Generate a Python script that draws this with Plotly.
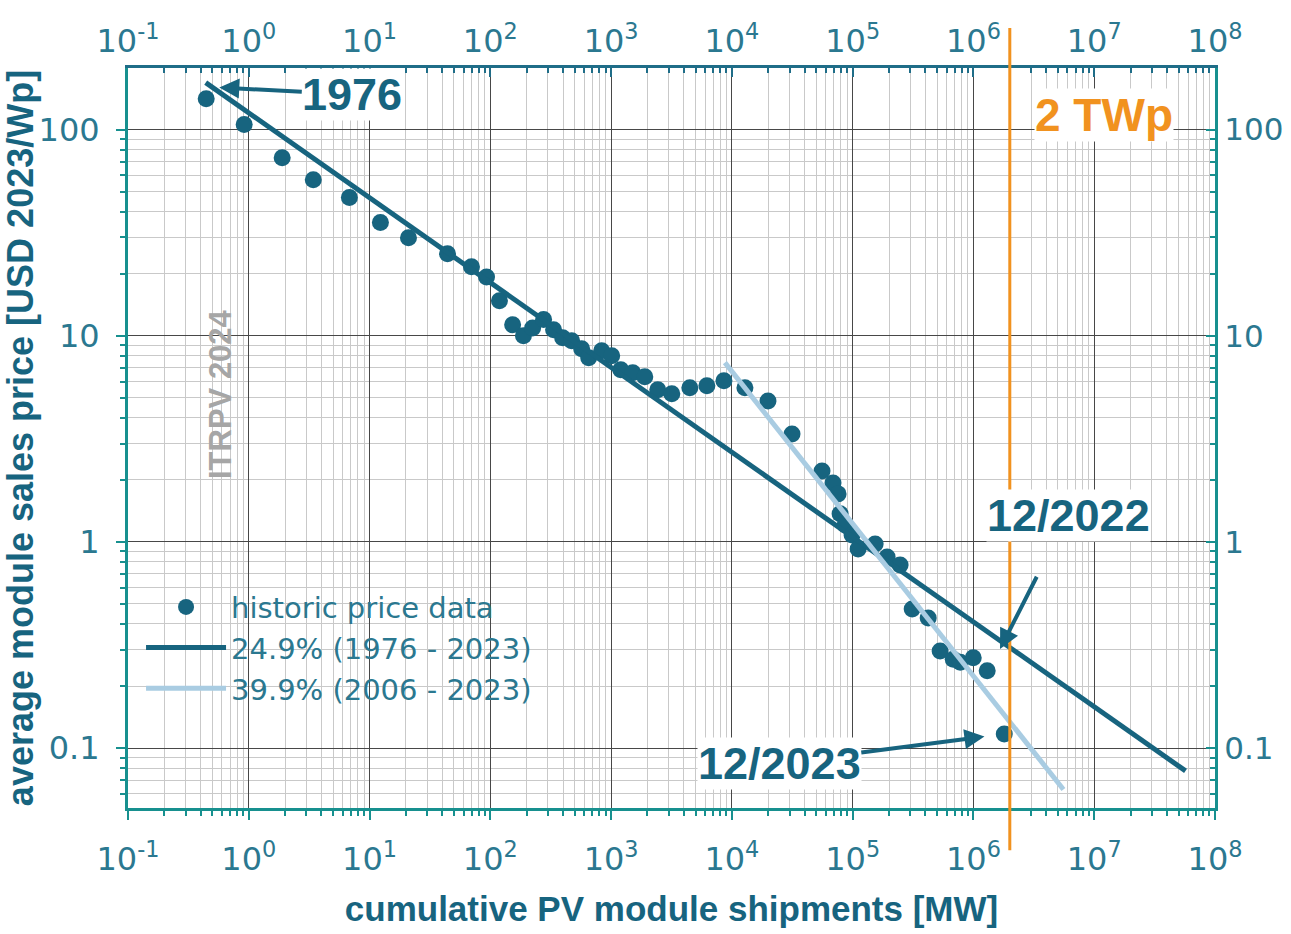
import numpy as np
import plotly.graph_objects as go

# Cumulative PV module shipments [MW] and average module sales price [USD 2023/Wp]
shipments_mw = [
    0.444, 0.916, 1.89, 3.42, 6.81, 12.3, 21.0, 44.2, 69.8, 93.0,
    119, 153, 188, 224, 276, 334, 397, 471, 570, 652,
    835, 1011, 1202, 1511, 1900, 2434, 3180, 4486, 6208, 8590,
    12820, 19900, 31470, 55730, 68750, 75700, 78700, 86500, 98900, 111000,
    153500, 192900, 247000, 311000, 422000, 530000, 680000, 778000, 996000, 1.30e6,
    1.80e6,
]
price_usd = [
    141, 106, 73.1, 57.1, 46.8, 35.4, 29.9, 25.0, 21.6, 19.3,
    14.8, 11.3, 10.0, 10.9, 12.0, 10.7, 9.78, 9.46, 8.65, 7.82,
    8.45, 8.0, 6.84, 6.61, 6.32, 5.47, 5.23, 5.59, 5.72, 6.05,
    5.59, 4.83, 3.34, 2.21, 1.93, 1.71, 1.37, 1.21, 1.08, 0.925,
    0.978, 0.845, 0.773, 0.473, 0.428, 0.296, 0.270, 0.261, 0.274, 0.237,
    0.117,
]

# Learning-curve fits (end points of straight lines in log-log space)
fit_long_x = [0.44, 5.7e7]      # 24.9 % (1976 - 2023)
fit_long_y = [169, 0.0775]
fit_short_x = [8750, 5.56e6]    # 39.9 % (2006 - 2023)
fit_short_y = [7.41, 0.063]

capacity_2tw_mw = 2e6

x_tick_vals = [10.0 ** k for k in range(-1, 9)]
x_tick_text = [f"10<sup>{k}</sup>" for k in range(-1, 9)]
y_tick_vals = [0.1, 1, 10, 100]
y_tick_text = ["0.1", "1", "10", "100"]

DARK = "#17647f"
LIGHT = "#a9cce2"
ORANGE = "#f1921f"
TICK_COL = "#2b7890"
AXIS_TEAL = "#17908f"
AXIS_TOP = "#1f6d88"
FONT = "Liberation Sans, Arial, sans-serif"
TICK_FONT = "DejaVu Sans, sans-serif"

X_RANGE = [-1, 8]
Y_RANGE = [np.log10(0.0512), np.log10(199)]

fig = go.Figure()

fig.add_trace(go.Scatter(
    x=shipments_mw, y=price_usd, mode="markers", name="historic price data",
    marker=dict(size=17, color=DARK, line=dict(width=0)),
))
fig.add_trace(go.Scatter(
    x=fit_long_x, y=fit_long_y, mode="lines", name="24.9% (1976 - 2023)",
    line=dict(color=DARK, width=5),
))
# the short-period fit sits on the mirrored top/right axes (same ranges)
fig.add_trace(go.Scatter(
    x=fit_short_x, y=fit_short_y, mode="lines", name="39.9% (2006 - 2023)",
    line=dict(color=LIGHT, width=5), xaxis="x2", yaxis="y2",
))

major_grid = "#474747"
minor_grid = "#c9c9c9"
tickfont = dict(family=TICK_FONT, size=32, color=TICK_COL)

fig.update_layout(
    width=1291, height=934,
    margin=dict(l=128, r=76, t=68, b=126),
    paper_bgcolor="white", plot_bgcolor="white",
    font=dict(family=FONT, color=TICK_COL),
    showlegend=True,
    legend=dict(
        x=0.012, y=0.306, xanchor="left", yanchor="top",
        bgcolor="rgba(0,0,0,0)", font=dict(family=TICK_FONT, size=29, color=TICK_COL),
        itemwidth=80, tracegroupgap=0,
    ),
    xaxis=dict(
        type="log", range=X_RANGE, automargin=False,
        tickvals=x_tick_vals, ticktext=x_tick_text, tickfont=tickfont,
        ticks="outside", ticklen=9, tickwidth=2, tickcolor=AXIS_TEAL,
        ticklabelstandoff=12,
        showline=True, linecolor=AXIS_TEAL, linewidth=3,
        showgrid=True, gridcolor=major_grid, gridwidth=1.3,
        minor=dict(dtick="D1", showgrid=True, gridcolor=minor_grid, gridwidth=1,
                   ticks="outside", ticklen=5, tickcolor=AXIS_TEAL),
        zeroline=False,
        title=dict(text="<b>cumulative PV module shipments [MW]</b>",
                   font=dict(size=35, color=DARK), standoff=20),
    ),
    xaxis2=dict(
        type="log", range=X_RANGE, overlaying="x", side="top", anchor="y2",
        automargin=False,
        tickvals=x_tick_vals, ticktext=x_tick_text, tickfont=tickfont,
        ticks="inside", ticklen=9, tickwidth=2, tickcolor=AXIS_TOP,
        ticklabelstandoff=0,
        showline=True, linecolor=AXIS_TOP, linewidth=3,
        showgrid=False,
        minor=dict(dtick="D1", showgrid=False, ticks="inside", ticklen=5, tickcolor=AXIS_TOP),
        zeroline=False,
    ),
    yaxis=dict(
        type="log", range=Y_RANGE, automargin=False,
        tickvals=y_tick_vals, ticktext=y_tick_text, tickfont=tickfont,
        ticks="outside", ticklen=9, tickwidth=2, tickcolor=AXIS_TEAL,
        ticklabelstandoff=10,
        showline=True, linecolor=AXIS_TEAL, linewidth=3,
        showgrid=True, gridcolor=major_grid, gridwidth=1.3,
        minor=dict(dtick="D1", showgrid=True, gridcolor=minor_grid, gridwidth=1,
                   ticks="outside", ticklen=5, tickcolor=AXIS_TEAL),
        zeroline=False,
        title=dict(text="<b>average module sales price [USD 2023/Wp]</b>",
                   font=dict(size=36, color=DARK), standoff=0),
    ),
    yaxis2=dict(
        type="log", range=Y_RANGE, overlaying="y", side="right", anchor="x2",
        automargin=False,
        tickvals=y_tick_vals, ticktext=y_tick_text,
        tickfont=dict(family=TICK_FONT, size=31, color=TICK_COL),
        ticks="inside", ticklen=9, tickwidth=2, tickcolor=AXIS_TEAL,
        ticklabelstandoff=0,
        showline=True, linecolor=AXIS_TEAL, linewidth=3,
        showgrid=False,
        minor=dict(dtick="D1", showgrid=False, ticks="inside", ticklen=5, tickcolor=AXIS_TEAL),
        zeroline=False,
    ),
)

# 2 TWp marker line, reaching past the frame on both sides
fig.add_shape(
    type="line", xref="x", yref="paper",
    x0=capacity_2tw_mw, x1=capacity_2tw_mw, y0=-0.057, y1=1.054,
    line=dict(color=ORANGE, width=3), layer="above",
)

lg = np.log10
ann_font = dict(family=FONT, size=45, color=DARK)

fig.add_annotation(
    x=lg(capacity_2tw_mw), y=lg(118), xref="x", yref="y",
    text="<b>2 TWp</b>", showarrow=False, xanchor="left", xshift=24,
    font=dict(family=FONT, size=46, color=ORANGE), bgcolor="white", borderpad=0,
)
fig.add_annotation(
    x=lg(0.57), y=lg(160), xref="x", yref="y",
    text="<b>1976</b>", showarrow=True, ax=133, ay=7,
    arrowhead=2, arrowsize=1, arrowwidth=4, arrowcolor=DARK,
    font=ann_font, bgcolor="white", borderpad=0,
)
fig.add_annotation(
    x=lg(1.66e6), y=lg(0.302), xref="x", yref="y",
    text="<b>12/2022</b>", showarrow=True, ax=68, ay=-134,
    startstandoff=40,
    arrowhead=2, arrowsize=1, arrowwidth=4, arrowcolor=DARK,
    font=ann_font, bgcolor="white", borderpad=0,
)
fig.add_annotation(
    x=lg(shipments_mw[-1]), y=lg(price_usd[-1]), xref="x", yref="y",
    text="<b>12/2023</b>", showarrow=True, ax=-225, ay=29, standoff=20,
    arrowhead=2, arrowsize=1, arrowwidth=4, arrowcolor=DARK,
    font=ann_font, bgcolor="white", borderpad=0,
)
fig.add_annotation(
    x=-0.229, y=0.718, xref="x", yref="y",
    text="<b>ITRPV 2024</b>", textangle=-90, showarrow=False,
    font=dict(family=FONT, size=31, color="#a6a6a6"),
)

fig.write_html("out.html")
